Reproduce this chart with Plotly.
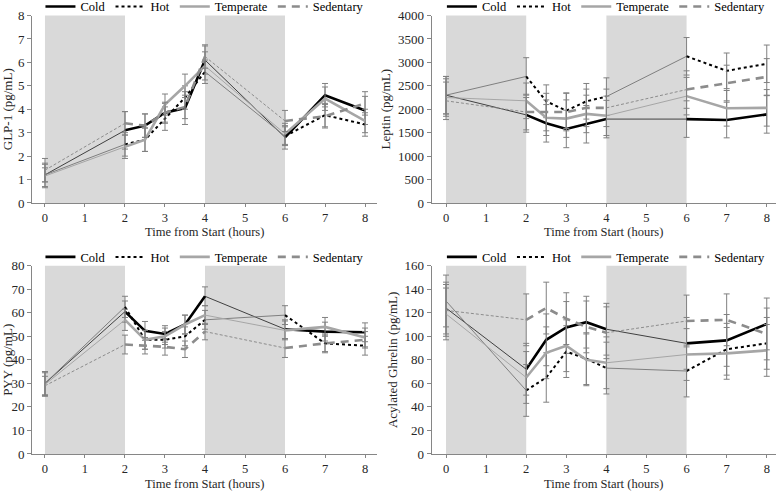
import plotly.graph_objects as go

# ---------------- data ----------------
TIME = [0, 2, 2.5, 3, 3.5, 4, 6, 7, 8]
X_TICKS = [0, 1, 2, 3, 4, 5, 6, 7, 8]
X_TITLE = "Time from Start (hours)"
SERIES = ["Cold", "Hot", "Temperate", "Sedentary"]
SHADED = [(0, 2), (4, 6)]

GLP1_COLD = [1.2, 3.1, 3.3, 3.85, 4.05, 6.1, 2.8, 4.6, 3.95]
GLP1_HOT = [1.2, 2.5, 2.7, 3.6, 4.5, 5.6, 2.85, 3.75, 3.35]
GLP1_TEMPERATE = [1.15, 2.4, 2.7, 4.2, 5.0, 5.85, 2.95, 4.45, 3.5]
GLP1_SEDENTARY = [1.4, 3.4, 3.3, 3.85, 4.1, 6.25, 3.5, 3.7, 4.25]
GLP1_COLD_ERR = [0.3, 0.8, 0.5, 0.4, 0.7, 0.6, 0.5, 0.5, 0.6]
GLP1_HOT_ERR = [0.5, 0.5, 0.5, 0.5, 0.5, 0.5, 0.4, 0.5, 0.5]
GLP1_TEMPERATE_ERR = [0.5, 0.5, 0.5, 0.45, 0.5, 0.6, 0.45, 0.5, 0.5]
GLP1_SEDENTARY_ERR = [0.5, 0.5, 0.5, 0.45, 0.5, 0.5, 0.45, 0.5, 0.5]

LEPTIN_COLD = [2300, 1880, 1700, 1580, 1680, 1790, 1790, 1770, 1890]
LEPTIN_HOT = [2300, 2700, 2170, 1970, 2170, 2270, 3130, 2820, 2970]
LEPTIN_TEMPERATE = [2250, 2180, 1820, 1800, 1900, 1860, 2280, 2020, 2030]
LEPTIN_SEDENTARY = [2180, 1940, 1940, 1940, 2030, 2030, 2420, 2560, 2690]
LEPTIN_COLD_ERR = [400, 370, 400, 400, 400, 400, 390, 380, 400]
LEPTIN_HOT_ERR = [400, 400, 350, 380, 380, 400, 400, 380, 400]
LEPTIN_TEMPERATE_ERR = [400, 380, 380, 400, 400, 420, 400, 380, 390]
LEPTIN_SEDENTARY_ERR = [400, 380, 400, 400, 400, 400, 400, 380, 390]

PYY_COLD = [30, 60.5, 52.3, 51, 55, 67, 53, 52, 51.7]
PYY_HOT = [30, 62.5, 48.5, 48.5, 50, 57, 59, 47, 46]
PYY_TEMPERATE = [29.5, 57, 48.5, 50, 55, 59, 52.5, 54, 49.5]
PYY_SEDENTARY = [29, 46.5, 46, 45.5, 44.5, 52, 45, 47, 48.5]
PYY_COLD_ERR = [5, 4.5, 4, 3.5, 4, 4, 4, 4, 4]
PYY_HOT_ERR = [5, 4.5, 4, 3.5, 4, 4, 4, 4, 4]
PYY_TEMPERATE_ERR = [5, 4.5, 4, 3.5, 4, 4, 4, 4, 4]
PYY_SEDENTARY_ERR = [4, 4, 3.5, 3.5, 3.5, 3.5, 4, 3.5, 3.5]

GHRELIN_COLD = [124, 72, 97, 107.5, 112, 106, 94, 96.5, 110.5]
GHRELIN_HOT = [130, 54, 65, 87, 81, 73, 70.5, 89, 94]
GHRELIN_TEMPERATE = [119, 65, 86, 92, 80, 77.5, 84.5, 85.5, 88]
GHRELIN_SEDENTARY = [122, 114, 124, 115, 108, 103, 113, 114, 102]
GHRELIN_COLD_ERR = [22, 22, 22, 22, 22, 22, 22, 22, 22]
GHRELIN_HOT_ERR = [22, 22, 21, 22, 22, 22, 22, 22, 22]
GHRELIN_TEMPERATE_ERR = [22, 22, 22, 22, 22, 22, 22, 22, 22]
GHRELIN_SEDENTARY_ERR = [22, 22, 22, 22, 22, 22, 22, 22, 22]

PANELS = [
    dict(title="GLP-1 (pg/mL)", top=8, dtick=1,
         values=[GLP1_COLD, GLP1_HOT, GLP1_TEMPERATE, GLP1_SEDENTARY],
         errors=[GLP1_COLD_ERR, GLP1_HOT_ERR, GLP1_TEMPERATE_ERR, GLP1_SEDENTARY_ERR]),
    dict(title="Leptin (pg/mL)", top=4000, dtick=500,
         values=[LEPTIN_COLD, LEPTIN_HOT, LEPTIN_TEMPERATE, LEPTIN_SEDENTARY],
         errors=[LEPTIN_COLD_ERR, LEPTIN_HOT_ERR, LEPTIN_TEMPERATE_ERR, LEPTIN_SEDENTARY_ERR]),
    dict(title="PYY (pg/mL)", top=80, dtick=10,
         values=[PYY_COLD, PYY_HOT, PYY_TEMPERATE, PYY_SEDENTARY],
         errors=[PYY_COLD_ERR, PYY_HOT_ERR, PYY_TEMPERATE_ERR, PYY_SEDENTARY_ERR]),
    dict(title="Acylated Ghrelin (pg/mL)", top=160, dtick=20,
         values=[GHRELIN_COLD, GHRELIN_HOT, GHRELIN_TEMPERATE, GHRELIN_SEDENTARY],
         errors=[GHRELIN_COLD_ERR, GHRELIN_HOT_ERR, GHRELIN_TEMPERATE_ERR, GHRELIN_SEDENTARY_ERR]),
]

# ---------------- styles ----------------
FONT = "Liberation Serif, Times New Roman, serif"
TEXT_COLOR = "#262626"
THICK = {
    "Cold": dict(color="#000000", width=2.6, dash="solid"),
    "Hot": dict(color="#000000", width=2.0, dash="dot"),
    "Temperate": dict(color="#a6a6a6", width=2.6, dash="solid"),
    "Sedentary": dict(color="#8c8c8c", width=2.6, dash="8px,6px"),
}
THIN = {
    "Cold": dict(color="#404040", width=1.0, dash="solid"),
    "Hot": dict(color="#7f7f7f", width=1.0, dash="solid"),
    "Temperate": dict(color="#a6a6a6", width=1.0, dash="solid"),
    "Sedentary": dict(color="#8c8c8c", width=1.0, dash="3px,2px"),
}
AXIS_COLOR = "#868686"
ERR_COLOR = "#808080"

# axis domains in paper coordinates
XDOMS = [[0.0411, 0.4846], [0.5549, 0.9974], [0.0411, 0.4846], [0.5549, 0.9974]]
YDOMS = [[0.5866, 0.9684], [0.5866, 0.9684], [0.0754, 0.4589], [0.0754, 0.4589]]
XRANGES = [[-0.325, 8.3], [-0.357, 8.23], [-0.325, 8.3], [-0.357, 8.23]]
LEG_POS = [(0.052, 0.986), (0.568, 0.986), (0.052, 0.476), (0.568, 0.476)]
XTITLE_Y = [0.5275, 0.5275, 0.0143, 0.0143]


def split(xs, ys, groups):
    ox, oy = [], []
    for g in groups:
        for i in g:
            ox.append(xs[i])
            oy.append(ys[i])
        ox.append(None)
        oy.append(None)
    return ox, oy


# index groups: thin segments inside shaded periods, thick ones outside
def groups_for(times):
    thick, thin = [], []
    for i in range(len(times) - 1):
        a, b = times[i], times[i + 1]
        inside = any(lo <= a and b <= hi for lo, hi in SHADED)
        (thin if inside else thick).append([i, i + 1])

    def merge(pairs):
        out = []
        for p in pairs:
            if out and out[-1][-1] == p[0]:
                out[-1].append(p[1])
            else:
                out.append(list(p))
        return out
    return merge(thick), merge(thin)


THICK_G, THIN_G = groups_for(TIME)

fig = go.Figure()
layout = dict(
    width=778, height=491, margin=dict(l=0, r=0, t=0, b=0, autoexpand=False),
    paper_bgcolor="white", plot_bgcolor="white",
    font=dict(family=FONT, size=13, color=TEXT_COLOR),
    shapes=[], annotations=[],
)

for p, panel in enumerate(PANELS):
    n = "" if p == 0 else str(p + 1)
    xa, ya = "x" + n, "y" + n
    leg = "legend" + n
    for k, name in enumerate(SERIES):
        vals, errs = panel["values"][k], panel["errors"][k]
        # error bars
        fig.add_trace(go.Scatter(
            x=TIME, y=vals, mode="markers", xaxis=xa, yaxis=ya,
            marker=dict(size=2, color=ERR_COLOR, opacity=0),
            error_y=dict(type="data", array=errs, color=ERR_COLOR, thickness=1, width=3),
            showlegend=False, hoverinfo="skip", legend=leg))
        tx, ty = split(TIME, vals, THIN_G)
        fig.add_trace(go.Scatter(
            x=tx, y=ty, mode="lines", xaxis=xa, yaxis=ya, line=THIN[name],
            showlegend=False, legendgroup=name, legend=leg, connectgaps=False))
        kx, ky = split(TIME, vals, THICK_G)
        fig.add_trace(go.Scatter(
            x=kx, y=ky, mode="lines", xaxis=xa, yaxis=ya, line=THICK[name],
            name=name, showlegend=True, legendgroup=name, legend=leg, connectgaps=False))

    for lo, hi in SHADED:
        layout["shapes"].append(dict(
            type="rect", xref=xa, yref=ya + " domain", x0=lo, x1=hi, y0=0, y1=1,
            fillcolor="#d9d9d9", line=dict(width=0), layer="below"))

    layout["xaxis" + n] = dict(
        domain=XDOMS[p], range=XRANGES[p], anchor=ya, tickvals=X_TICKS,
        automargin=False,
        showline=True, linecolor=AXIS_COLOR, linewidth=1, ticks="outside",
        ticklen=3, tickcolor=AXIS_COLOR, showgrid=False, zeroline=False,
        tickfont=dict(size=12.5, family=FONT, color=TEXT_COLOR))
    layout["annotations"].append(dict(
        text=X_TITLE, xref="paper", yref="paper",
        x=sum(XDOMS[p]) / 2, y=XTITLE_Y[p], xanchor="center", yanchor="middle",
        showarrow=False, font=dict(size=12.5, family=FONT, color=TEXT_COLOR)))
    layout["yaxis" + n] = dict(
        domain=YDOMS[p], range=[0, panel["top"]], dtick=panel["dtick"], anchor=xa,
        automargin=False,
        showline=True, linecolor=AXIS_COLOR, linewidth=1, ticks="outside",
        ticklen=4, tickcolor=AXIS_COLOR, showgrid=False, zeroline=False,
        tickfont=dict(size=13, family=FONT, color=TEXT_COLOR),
        title=dict(text=panel["title"], standoff=4,
                   font=dict(size=13, family=FONT, color=TEXT_COLOR)))
    lx, ly = LEG_POS[p]
    layout[leg] = dict(
        orientation="h", x=lx, y=ly, xanchor="left", yanchor="middle",
        bgcolor="rgba(0,0,0,0)", font=dict(size=12.5, family=FONT, color="#000000"),
        itemwidth=30, tracegroupgap=0, itemclick=False)

fig.update_layout(**layout)
fig.write_html(
    "out.html",
    config={"displayModeBar": False},
    post_script="document.body.style.margin='0';document.body.style.padding='0';",
)
